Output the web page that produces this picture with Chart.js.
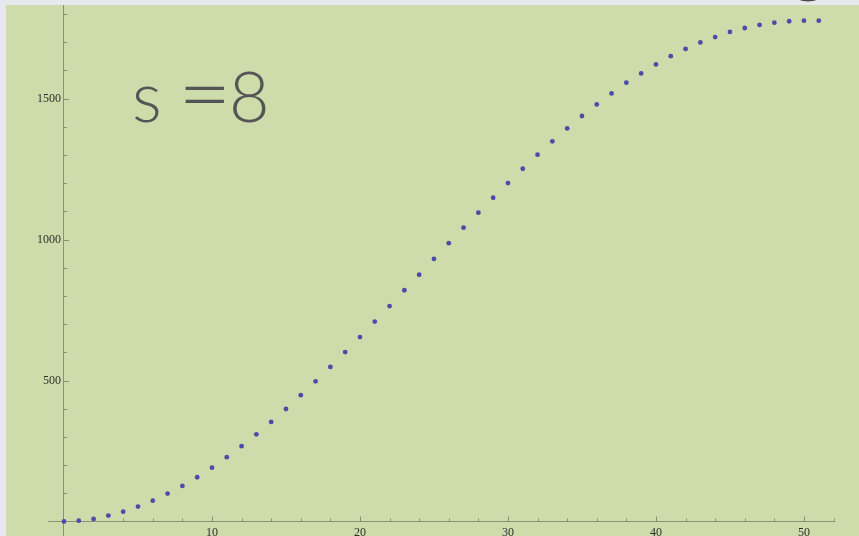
<!DOCTYPE html>
<html>
<head>
<meta charset="utf-8">
<script src="https://cdn.jsdelivr.net/npm/chart.js@4"></script>
<style>
  html, body { margin: 0; padding: 0; background: #e6e8ec; }
  #wrap { position: relative; width: 859px; height: 536px; }
</style>
</head>
<body>
<div id="wrap"><canvas id="growth" width="859" height="536"></canvas></div>
<script>
// step number and cumulative total
var steps = [];
for (var i = 0; i <= 51; i++) steps.push(i);
var totals = [
    0, 3, 9, 21, 35, 53, 74, 99, 126, 157,
    191, 228, 267, 309, 353, 399, 448, 497, 548, 601,
    654, 709, 764, 820, 875, 931, 987, 1042, 1095, 1148,
    1200, 1251, 1301, 1348, 1394, 1438, 1479, 1518, 1556, 1589,
    1621, 1650, 1676, 1699, 1718, 1736, 1750, 1761, 1769, 1774,
    1776, 1776
];

// labelled ticks
var xLabels = [10, 20, 30, 40, 50];
var yLabels = [500, 1000, 1500];
var caption = ['s', '=', '8'];

var axisColor = '#879279';

// page frame, green panel and the big caption
var backdrop = {
    id: 'backdrop',
    beforeDraw: function (chart) {
        var c = chart.ctx;
        c.save();
        c.fillStyle = '#e6e8ec';
        c.fillRect(0, 0, chart.width, chart.height);
        c.fillStyle = '#cddcaa';
        c.fillRect(6, 5, chart.width - 6, chart.height - 5);
        // bottom of a glyph peeking in from above
        c.fillStyle = '#4a4a4a';
        c.beginPath();
        c.ellipse(808, -4, 13, 5.5, 0, 0, Math.PI * 2);
        c.fill();
        c.restore();
    },
    afterDraw: function (chart) {
        var c = chart.ctx;
        c.save();
        c.fillStyle = '#555555';
        c.font = '300 70px Lato';
        c.textBaseline = 'alphabetic';
        c.fillText(caption[0], 132, 122);
        c.fillText(caption[2], 229, 122);
        // the equals sign is set wide
        c.translate(178, 124);
        c.scale(1.32, 1.2);
        c.fillText(caption[1], 0, 0);
        c.restore();
    }
};

// inward tick marks, long on labelled values
var tickMarks = {
    id: 'tickMarks',
    beforeDatasetsDraw: function (chart) {
        var xs = chart.scales.x, ys = chart.scales.y;
        var x0 = xs.getPixelForValue(0), y0 = ys.getPixelForValue(0);
        var c = chart.ctx;
        c.save();
        c.strokeStyle = axisColor;
        c.lineWidth = 1;
        c.beginPath();
        for (var v = 2; v <= 52; v += 2) {
            var px = Math.round(xs.getPixelForValue(v)) + 0.5;
            var len = xLabels.indexOf(v) >= 0 ? 5 : 3;
            c.moveTo(px, y0);
            c.lineTo(px, y0 - len);
        }
        for (var w = 100; w <= 1800; w += 100) {
            var py = Math.round(ys.getPixelForValue(w)) + 0.5;
            var l = yLabels.indexOf(w) >= 0 ? 5 : 3;
            c.moveTo(x0, py);
            c.lineTo(x0 + l, py);
        }
        c.stroke();
        c.restore();
    }
};

var labelFont = { family: 'Liberation Serif', size: 12 };
var plain = function (v) { return String(v); };
// a space keeps the number off the axis line
var spaced = function (v) { return String(v) + ' '; };

new Chart(document.getElementById('growth'), {
    type: 'scatter',
    data: {
        datasets: [{
            data: steps.map(function (s, k) { return { x: s, y: totals[k] }; }),
            backgroundColor: '#4b4ca9',
            borderWidth: 0,
            pointRadius: 2.4
        }]
    },
    options: {
        responsive: false,
        animation: false,
        layout: { autoPadding: false, padding: { left: 48, right: 25, top: 5, bottom: 0 } },
        plugins: { legend: { display: false }, tooltip: { enabled: false } },
        scales: {
            x: {
                type: 'linear',
                position: { y: 0 },
                min: -1.08,
                max: 52.03,
                afterBuildTicks: function (s) { s.ticks = xLabels.map(function (v) { return { value: v }; }); },
                afterFit: function (s) { s.height = 0; s.paddingLeft = 0; s.paddingRight = 0; },
                grid: { drawOnChartArea: false, drawTicks: false },
                border: { color: axisColor, width: 1 },
                ticks: { color: '#2e2e2e', font: labelFont, padding: 4, maxRotation: 0, callback: plain }
            },
            y: {
                type: 'linear',
                position: { x: 0 },
                min: -51.4,
                max: 1831.6,
                afterBuildTicks: function (s) { s.ticks = yLabels.map(function (v) { return { value: v }; }); },
                afterFit: function (s) { s.width = 0; s.paddingTop = 0; s.paddingBottom = 0; },
                grid: { drawOnChartArea: false, drawTicks: false },
                border: { color: axisColor, width: 1 },
                ticks: { color: '#2e2e2e', font: labelFont, padding: 4, callback: spaced }
            }
        }
    },
    plugins: [backdrop, tickMarks]
});
</script>
</body>
</html>
